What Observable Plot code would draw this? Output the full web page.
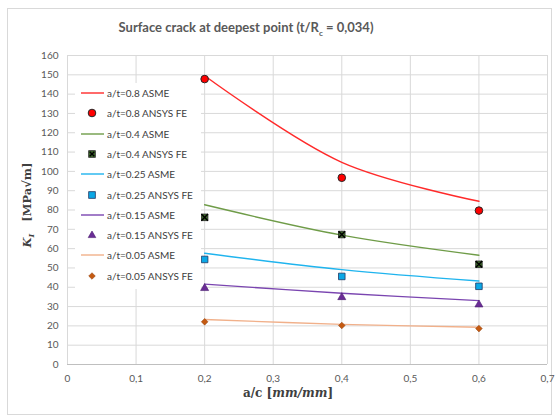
<!DOCTYPE html>
<html>
<head>
<meta charset="utf-8">
<script src="https://cdn.jsdelivr.net/npm/d3@7"></script>
<script src="https://cdn.jsdelivr.net/npm/@observablehq/plot@0.6"></script>
<style>
  html, body { margin: 0; padding: 0; background: #fff; }
  #wrap { position: relative; width: 558px; height: 418px; overflow: hidden; font-family: Lato, "Open Sans", sans-serif; }
  #frame { position: absolute; left: 7px; top: 8px; width: 545px; height: 407px; border: 1px solid #d9d9d9; box-sizing: border-box; }
  #chart { position: absolute; left: 0; top: 0; }
  #title { position: absolute; left: 0; width: 492px; top: 19px; text-align: center; font-size: 13px; font-weight: bold; color: #595959; white-space: nowrap; }
  #ylab { position: absolute; left: 28px; top: 205px; transform: translate(-50%, -50%) rotate(-90deg); font-family: "DejaVu Serif", "Liberation Serif", serif; font-weight: bold; font-size: 11.5px; color: #404040; white-space: nowrap; }
  #xlab { position: absolute; left: 288px; top: 393px; transform: translate(-50%, -50%); font-family: "DejaVu Serif", "Liberation Serif", serif; font-weight: bold; font-size: 12px; color: #404040; white-space: nowrap; }
  #legend { position: absolute; left: 75px; top: 83px; width: 126px; height: 206px; background: #fff; }
  .lrow { position: absolute; left: 0; height: 20px; width: 126px; }
  .lrow svg { position: absolute; left: 5px; top: 0; }
  .lrow span { position: absolute; left: 32px; top: 0; line-height: 20px; font-size: 10px; color: #404040; white-space: nowrap; }
</style>
</head>
<body>
<div id="wrap">
  <div id="frame"></div>
  <div id="chart"></div>
  <div id="title">Surface crack at deepest point (t/R<sub style="font-size:8px">c</sub> = 0,034)</div>
  <div id="ylab"><i>K<sub style="font-size:8px">I</sub></i>&nbsp;&nbsp;&nbsp;[MPa√m]</div>
  <div id="xlab">a/c [<i>mm/mm</i>]</div>
  <div id="legend"></div>
</div>
<script>
// ---- data ----
const aOverC = [0.2, 0.4, 0.6];
const asme08 = [149.5, 104.7, 84.5];
const fe08   = [147.8, 96.7, 79.7];
const asme04 = [82.7, 67.0, 56.6];
const fe04   = [76.2, 67.3, 51.9];
const asme025 = [57.6, 49.1, 43.2];
const fe025   = [54.4, 45.6, 40.5];
const asme015 = [41.6, 36.9, 33.1];
const fe015   = [39.5, 34.8, 31.0];
const asme005 = [23.3, 20.8, 19.3];
const fe005   = [22.1, 20.2, 18.6];
const xTicks = [0, 0.1, 0.2, 0.3, 0.4, 0.5, 0.6, 0.7];
const yTicks = [0,10,20,30,40,50,60,70,80,90,100,110,120,130,140,150,160];
const legendLabels = ["a/t=0.8 ASME","a/t=0.8 ANSYS FE","a/t=0.4 ASME","a/t=0.4 ANSYS FE","a/t=0.25 ASME","a/t=0.25 ANSYS FE","a/t=0.15 ASME","a/t=0.15 ANSYS FE","a/t=0.05 ASME","a/t=0.05 ANSYS FE"];

const rows = vals => aOverC.map((x, i) => ({x, y: vals[i]}));

// styles
const C = {
  r: "#ff2a2a", g: "#6f9c48", b: "#1fb4ee", p: "#7a45b0", o: "#f1b08a",
  rF: "#ff0000", gF: "#3d6b2a", bF: "#0ba8e6", pF: "#6a2c96", oF: "#c55a11"
};

const fmt = d => String(d).replace(".", ",");

const lineOpts = (stroke) => ({x: "x", y: "y", stroke, strokeWidth: 1.4, curve: "catmull-rom"});

const chart = Plot.plot({
  width: 558, height: 418,
  marginLeft: 67, marginRight: 11, marginTop: 55, marginBottom: 54,
  style: {fontFamily: "Lato, 'Open Sans', sans-serif", fontSize: "10px", color: "#595959", background: "transparent"},
  x: {domain: [0, 0.7], ticks: xTicks, tickFormat: fmt, tickSize: 0, tickPadding: 10, label: null},
  y: {domain: [0, 160], ticks: yTicks, tickSize: 0, tickPadding: 9, label: null},
  marks: [
    Plot.gridX(xTicks, {stroke: "#d9d9d9", strokeOpacity: 1}),
    Plot.gridY(yTicks, {stroke: "#d9d9d9", strokeOpacity: 1}),
    Plot.ruleY([0], {stroke: "#bfbfbf"}),
    Plot.line(rows(asme08), lineOpts(C.r)),
    Plot.line(rows(asme04), lineOpts(C.g)),
    Plot.line(rows(asme025), lineOpts(C.b)),
    Plot.line(rows(asme015), lineOpts(C.p)),
    Plot.line(rows(asme005), lineOpts(C.o)),
    Plot.dot(rows(fe08), {x: "x", y: "y", r: 3.8, fill: C.rF, stroke: "#262626", strokeWidth: 1, symbol: "circle"}),
    Plot.dot(rows(fe04), {x: "x", y: "y", r: 3.7, fill: C.gF, stroke: "#262626", strokeWidth: 0.8, symbol: "square"}),
    Plot.dot(rows(fe04), {x: "x", y: "y", r: 3.1, stroke: "#000", strokeWidth: 1.4, symbol: "times"}),
    Plot.dot(rows(fe025), {x: "x", y: "y", r: 3.7, fill: C.bF, stroke: "#1f3864", strokeWidth: 0.8, symbol: "square"}),
    Plot.dot(rows(fe015), {x: "x", y: "y", r: 3.0, fill: C.pF, stroke: "#4a1d6e", strokeWidth: 0.6, symbol: "triangle"}),
    Plot.dot(rows(fe005), {x: "x", y: "y", r: 3.0, fill: C.oF, stroke: "#8a3d0a", strokeWidth: 0.5, symbol: "diamond2"})
  ]
});
document.getElementById("chart").appendChild(chart);

// legend (HTML overlay)
const swatches = [
  `<line x1="1" x2="24" y1="10" y2="10" stroke="${C.r}" stroke-width="1.4"/>`,
  `<circle cx="12" cy="10" r="3.8" fill="${C.rF}" stroke="#262626"/>`,
  `<line x1="1" x2="24" y1="10" y2="10" stroke="${C.g}" stroke-width="1.4"/>`,
  `<rect x="8.7" y="6.7" width="6.6" height="6.6" fill="${C.gF}" stroke="#262626" stroke-width="0.8"/><path d="M9.7,7.7L14.3,12.3M14.3,7.7L9.7,12.3" stroke="#000" stroke-width="1.4"/>`,
  `<line x1="1" x2="24" y1="10" y2="10" stroke="${C.b}" stroke-width="1.4"/>`,
  `<rect x="8.7" y="6.7" width="6.6" height="6.6" fill="${C.bF}" stroke="#1f3864" stroke-width="0.8"/>`,
  `<line x1="1" x2="24" y1="10" y2="10" stroke="${C.p}" stroke-width="1.4"/>`,
  `<path d="M12,6L15.8,12.6L8.2,12.6Z" fill="${C.pF}" stroke="#4a1d6e" stroke-width="0.6"/>`,
  `<line x1="1" x2="24" y1="10" y2="10" stroke="${C.o}" stroke-width="1.4"/>`,
  `<path d="M12,6.7L15.3,10L12,13.3L8.7,10Z" fill="${C.oF}" stroke="#8a3d0a" stroke-width="0.5"/>`
];
const leg = document.getElementById("legend");
legendLabels.forEach((label, i) => {
  const row = document.createElement("div");
  row.className = "lrow";
  row.style.top = (i * 20.3) + "px";
  row.innerHTML = `<svg width="26" height="20">${swatches[i]}</svg><span>${label}</span>`;
  leg.appendChild(row);
});
</script>
</body>
</html>
